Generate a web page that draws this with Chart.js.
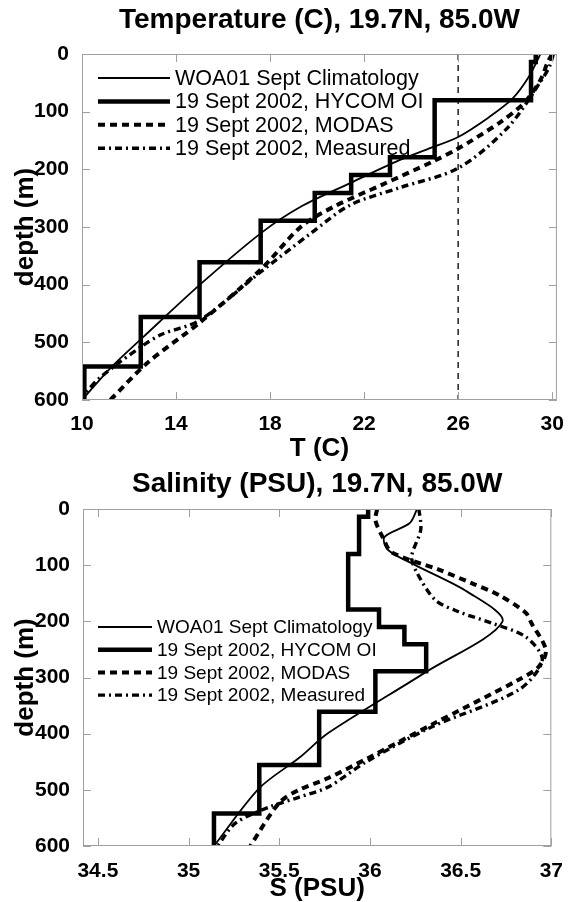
<!DOCTYPE html>
<html>
<head>
<meta charset="utf-8">
<script src="https://cdn.jsdelivr.net/npm/chart.js@4.4.1/dist/chart.umd.min.js"></script>
<style>
  html, body { margin: 0; padding: 0; background: #fff; }
  #top { position: absolute; left: 0; top: 0; width: 570px; height: 466px; }
  #bot { position: absolute; left: 0; top: 466px; width: 570px; height: 436px; }
</style>
</head>
<body>
<div id="top"><canvas id="tempChart"></canvas></div>
<div id="bot"><canvas id="salChart"></canvas></div>
<script>
const FONT = "'Liberation Sans', Arial, sans-serif";

const depthTicks = [0, 100, 200, 300, 400, 500, 600];
const tempTicks = [10, 14, 18, 22, 26, 30];
const salTicks = [34.5, 35, 35.5, 36, 36.5, 37];

const seriesLabels = [
  "WOA01 Sept Climatology",
  "19 Sept 2002, HYCOM OI",
  "19 Sept 2002, MODAS",
  "19 Sept 2002, Measured",
];

// temperature profiles (depth in m)
const climDepthT = [0, 40, 78, 110, 144, 165, 184, 224, 265, 311, 397, 491, 545, 600];
const climT = [29.5, 29.0, 28.3, 27.3, 26.0, 24.7, 23.5, 21.4, 19.3, 17.6, 15.1, 12.6, 11.2, 10.0];

// HYCOM layers: value holds from this depth down to the next one
const hycomDepth = [0, 14, 80, 179, 210, 241, 289, 361, 456, 542, 600];
const hycomT = [29.3, 29.1, 25.0, 23.1, 21.45, 19.9, 17.6, 15.0, 12.5, 10.1, 10.1];
const hycomS = [35.99, 35.94, 35.88, 36.05, 36.19, 36.31, 36.03, 35.72, 35.39, 35.14, 35.14];

const modasDepthT = [0, 15, 45, 85, 118, 152, 164, 187, 226, 265, 300, 374, 466, 535, 600];
const modasT = [30.0, 29.8, 29.5, 28.8, 27.8, 26.5, 26.0, 24.9, 22.8, 20.7, 19.3, 17.6, 15.0, 12.8, 11.2];

const measDepthT = [0, 20, 42, 128, 198, 232, 262, 312, 378, 462, 486, 508, 560, 590, 600];
const measT = [30.05, 29.9, 29.6, 28.1, 26.0, 23.5, 21.4, 19.7, 17.6, 15.0, 13.4, 12.5, 10.8, 10.1, 10.0];

const refT = 26;

// salinity profiles
const climDepthS = [0, 25, 50, 73, 100, 148, 201, 290, 399, 443, 497, 600];
const climS = [36.26, 36.22, 36.08, 36.10, 36.25, 36.54, 36.73, 36.31, 35.77, 35.61, 35.39, 35.14];

const modasDepthS = [0, 20, 50, 77, 108, 132, 153, 185, 203, 251, 281, 304, 384, 445, 479, 500, 523, 600];
const modasS = [36.04, 36.03, 36.07, 36.12, 36.38, 36.56, 36.71, 36.86, 36.89, 36.97, 36.93, 36.82, 36.34, 35.98, 35.77, 35.61, 35.5, 35.34];

const measDepthS = [0, 37, 85, 114, 162, 183, 203, 228, 269, 322, 388, 450, 495, 513, 530, 559, 600];
const measS = [36.27, 36.28, 36.23, 36.26, 36.36, 36.49, 36.67, 36.86, 36.95, 36.82, 36.34, 35.98, 35.77, 35.61, 35.45, 35.26, 35.16];

const pts = (xs, ds) => xs.map((v, i) => ({ x: v, y: ds[i] }));

// box + inward ticks on all four sides, MATLAB style
const boxTicks = {
  id: "boxTicks",
  afterDraw(chart) {
    const { ctx, chartArea: a, scales } = chart;
    ctx.save();
    ctx.strokeStyle = "#a0a0a0";
    ctx.lineWidth = 1;
    ctx.strokeRect(a.left + 0.5, a.top + 0.5, a.right - a.left - 1, a.bottom - a.top - 1);
    ctx.beginPath();
    scales.x.ticks.forEach(t => {
      const px = Math.round(scales.x.getPixelForValue(t.value)) + 0.5;
      ctx.moveTo(px, a.bottom); ctx.lineTo(px, a.bottom - 8);
      ctx.moveTo(px, a.top); ctx.lineTo(px, a.top + 8);
    });
    scales.y.ticks.forEach(t => {
      const py = Math.round(scales.y.getPixelForValue(t.value)) + 0.5;
      ctx.moveTo(a.left, py); ctx.lineTo(a.left + 8, py);
      ctx.moveTo(a.right, py); ctx.lineTo(a.right - 8, py);
    });
    ctx.stroke();
    ctx.restore();
  },
};

// title centred over the plot area
const plotTitle = {
  id: "plotTitle",
  afterDraw(chart, args, o) {
    const { ctx, chartArea: a } = chart;
    ctx.save();
    ctx.font = "bold 28px " + FONT;
    ctx.fillStyle = "#000";
    ctx.textAlign = "center";
    ctx.textBaseline = "alphabetic";
    ctx.fillText(o.text, (a.left + a.right) / 2, o.baseline);
    ctx.restore();
  },
};

// legend drawn inside the axes
const insideLegend = {
  id: "insideLegend",
  afterDraw(chart, args, o) {
    const ctx = chart.ctx;
    ctx.save();
    ctx.font = o.size + "px " + FONT;
    ctx.textBaseline = "middle";
    ctx.fillStyle = "#000";
    chart.data.datasets.filter(d => d.label).forEach((d, i) => {
      const y = o.y + i * o.dy;
      ctx.beginPath();
      ctx.setLineDash(d.borderDash || []);
      ctx.lineWidth = d.borderWidth;
      ctx.strokeStyle = d.borderColor;
      ctx.moveTo(o.x0, y);
      ctx.lineTo(o.x1, y);
      ctx.stroke();
      ctx.setLineDash([]);
      ctx.fillText(d.label, o.textX, y + 1);
    });
    ctx.restore();
  },
};

const tickFont = { family: FONT, size: 21, weight: "bold", lineHeight: 1 };
const axisFont = { family: FONT, size: 26, weight: "bold", lineHeight: 1 };

function profileSets(clim, hycom, modas, meas) {
  return [
    { label: seriesLabels[0], data: clim, borderColor: "#000", borderWidth: 1.8, tension: 0.3 },
    { label: seriesLabels[1], data: hycom, borderColor: "#000", borderWidth: 4.5, stepped: "after" },
    { label: seriesLabels[2], data: modas, borderColor: "#000", borderWidth: 4, borderDash: [7, 5], tension: 0.3 },
    { label: seriesLabels[3], data: meas, borderColor: "#000", borderWidth: 3.4, borderDash: [7, 4, 2, 4], tension: 0.3 },
  ];
}

function makeChart(id, o) {
  return new Chart(document.getElementById(id), {
    type: "scatter",
    data: { datasets: o.datasets },
    options: {
      responsive: true,
      maintainAspectRatio: false,
      animation: false,
      devicePixelRatio: 1,
      showLine: true,
      elements: { point: { radius: 0, hoverRadius: 0 } },
      layout: { padding: { top: o.plotTop, right: o.padRight, left: 0, bottom: 0 } },
      scales: {
        x: {
          type: "linear",
          min: o.xMin,
          max: o.xMax,
          afterBuildTicks: s => { s.ticks = o.xTicks.map(v => ({ value: v })); },
          afterFit: s => { s.height = o.xHeight; },
          grid: { display: false },
          border: { display: false },
          ticks: { font: tickFont, color: "#000", padding: o.xTickPad, autoSkip: false, maxRotation: 0, callback: v => String(v) },
          title: { display: true, text: o.xTitle, font: axisFont, color: "#000", padding: { top: 0, bottom: o.xTitlePad } },
        },
        y: {
          type: "linear",
          reverse: true,
          min: 0,
          max: 600,
          afterBuildTicks: s => { s.ticks = depthTicks.map(v => ({ value: v })); },
          afterFit: s => { s.width = o.yWidth; },
          grid: { display: false },
          border: { display: false },
          ticks: { font: tickFont, color: "#000", padding: 5, autoSkip: false, callback: v => String(v) },
          title: { display: true, text: "depth (m)", font: axisFont, color: "#000", padding: { top: 13, bottom: 0 } },
        },
      },
      plugins: {
        legend: { display: false },
        tooltip: { enabled: false },
        plotTitle: { text: o.title, baseline: o.titleBaseline },
        insideLegend: o.legend,
      },
    },
    plugins: [boxTicks, plotTitle, insideLegend],
  });
}

const tempSets = profileSets(
  pts(climT, climDepthT),
  pts(hycomT, hycomDepth),
  pts(modasT, modasDepthT),
  pts(measT, measDepthT)
);
tempSets.push({ data: [{ x: refT, y: 0 }, { x: refT, y: 600 }], borderColor: "#222", borderWidth: 1.5, borderDash: [6, 5] });

makeChart("tempChart", {
  datasets: tempSets,
  title: "Temperature (C), 19.7N, 85.0W",
  titleBaseline: 28,
  plotTop: 54, padRight: 13, yWidth: 82, xHeight: 66,
  xMin: 10, xMax: 30.2, xTicks: tempTicks,
  xTitle: "T (C)", xTickPad: 6, xTitlePad: 4,
  legend: { x0: 98, x1: 170, textX: 175, y: 78, dy: 23.4, size: 21.5 },
});

makeChart("salChart", {
  datasets: profileSets(
    pts(climS, climDepthS),
    pts(hycomS, hycomDepth),
    pts(modasS, modasDepthS),
    pts(measS, measDepthS)
  ),
  title: "Salinity (PSU), 19.7N, 85.0W",
  titleBaseline: 26,
  plotTop: 43, padRight: 18, yWidth: 83, xHeight: 56,
  xMin: 34.418, xMax: 37, xTicks: salTicks,
  xTitle: "S (PSU)", xTickPad: 7, xTitlePad: 0,
  legend: { x0: 98, x1: 152, textX: 157, y: 161, dy: 22.7, size: 19 },
});
</script>
</body>
</html>
